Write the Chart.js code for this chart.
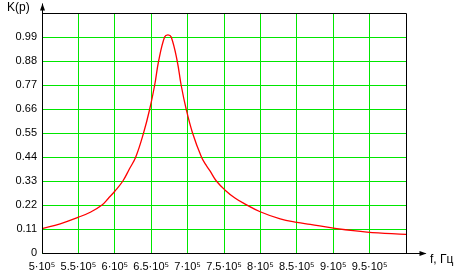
<!DOCTYPE html>
<html>
<head>
<meta charset="utf-8">
<script src="https://cdn.jsdelivr.net/npm/chart.js@4"></script>
<style>
  html, body { margin: 0; padding: 0; background: #fff; }
  #wrap { width: 461px; height: 277px; position: relative; }
</style>
</head>
<body>
<div id="wrap"><canvas id="grafico"></canvas></div>
<script>
// frequency, Hz and K(p)
const freqs = [500000, 525000, 550000, 567000, 582400, 591000, 600000, 611100, 620000, 628800,
  639500, 648000, 654800, 660200, 668400, 673000, 677500, 685700, 691100, 698000,
  706800, 719000, 725000, 731000, 739500, 751600, 765000, 779100, 799700, 827200,
  850200, 868500, 900500, 946400, 1000000];
const kValues = [0.112, 0.134, 0.164, 0.188, 0.22, 0.25, 0.283, 0.33, 0.385, 0.44,
  0.55, 0.66, 0.77, 0.88, 0.99, 1.0, 0.99, 0.88, 0.77, 0.66,
  0.55, 0.44, 0.405, 0.375, 0.33, 0.288, 0.252, 0.224, 0.189, 0.156,
  0.14, 0.131, 0.114, 0.096, 0.085];

const xTicks = [500000, 550000, 600000, 650000, 700000, 750000, 800000, 850000, 900000, 950000];
const xTickLabels = ['5·10⁵', '5.5·10⁵', '6·10⁵', '6.5·10⁵', '7·10⁵', '7.5·10⁵', '8·10⁵', '8.5·10⁵', '9·10⁵', '9.5·10⁵'];
const yTicks = [0, 0.11, 0.22, 0.33, 0.44, 0.55, 0.66, 0.77, 0.88, 0.99];
const yTickLabels = ['0', '0.11', '0.22', '0.33', '0.44', '0.55', '0.66', '0.77', '0.88', '0.99'];

const gridColor = 'rgb(0,230,0)';
const fuente = { family: 'Arial, "Liberation Sans", sans-serif', size: 11 };

// black frame, axis arrows and axis names
const marco = {
  id: 'marco',
  afterDraw(chart) {
    const { ctx } = chart;
    const { left, top, right, bottom } = chart.chartArea;
    const l = Math.round(left) + 0.5, t = Math.round(top) + 0.5;
    const r = Math.round(right) + 0.5, b = Math.round(bottom) + 0.5;
    ctx.save();
    ctx.strokeStyle = '#000';
    ctx.fillStyle = '#000';
    ctx.lineWidth = 1;
    ctx.beginPath();
    ctx.moveTo(l, t); ctx.lineTo(r, t); ctx.lineTo(r, b);
    ctx.moveTo(l, b); ctx.lineTo(r + 19, b);
    ctx.moveTo(l, b); ctx.lineTo(l, t - 10);
    ctx.stroke();
    // arrow heads
    ctx.beginPath();
    ctx.moveTo(l, t - 10); ctx.lineTo(l - 2.5, t - 3); ctx.lineTo(l + 2.5, t - 3); ctx.closePath();
    ctx.fill();
    ctx.beginPath();
    ctx.moveTo(r + 20, b); ctx.lineTo(r + 13, b - 2.5); ctx.lineTo(r + 13, b + 2.5); ctx.closePath();
    ctx.fill();
    ctx.font = '12px Arial, "Liberation Sans", sans-serif';
    ctx.textBaseline = 'middle';
    ctx.textAlign = 'left';
    ctx.fillText('K(p)', 7, 8);
    ctx.fillText('f, Гц', 430, 260);
    ctx.restore();
  }
};

new Chart(document.getElementById('grafico'), {
  type: 'line',
  data: {
    datasets: [{
      data: freqs.map((f, i) => ({ x: f, y: kValues[i] })),
      borderColor: '#ff0000',
      borderWidth: 1.3,
      pointRadius: 0,
      tension: 0.4,
      fill: false
    }]
  },
  options: {
    responsive: true,
    maintainAspectRatio: false,
    animation: false,
    layout: { padding: { top: 13, right: 55, left: 0, bottom: 0 } },
    plugins: { legend: { display: false }, tooltip: { enabled: false } },
    scales: {
      x: {
        type: 'linear',
        min: 500000,
        max: 1000000,
        afterBuildTicks: s => { s.ticks = xTicks.map(v => ({ value: v })); },
        afterFit: s => { s.height = 24; },
        grid: { color: gridColor, lineWidth: 1, drawTicks: false },
        border: { display: false },
        ticks: {
          padding: 7,
          maxRotation: 0,
          autoSkip: false,
          color: '#000',
          font: fuente,
          callback: (v, i) => xTickLabels[i]
        }
      },
      y: {
        min: 0,
        max: 1.1,
        afterBuildTicks: s => { s.ticks = yTicks.map(v => ({ value: v })); },
        afterFit: s => { s.width = 42; },
        grid: { color: gridColor, lineWidth: 1, drawTicks: false },
        border: { display: false },
        ticks: {
          padding: 5,
          autoSkip: false,
          color: '#000',
          font: fuente,
          callback: (v, i) => yTickLabels[i]
        }
      }
    }
  },
  plugins: [marco]
});
</script>
</body>
</html>
